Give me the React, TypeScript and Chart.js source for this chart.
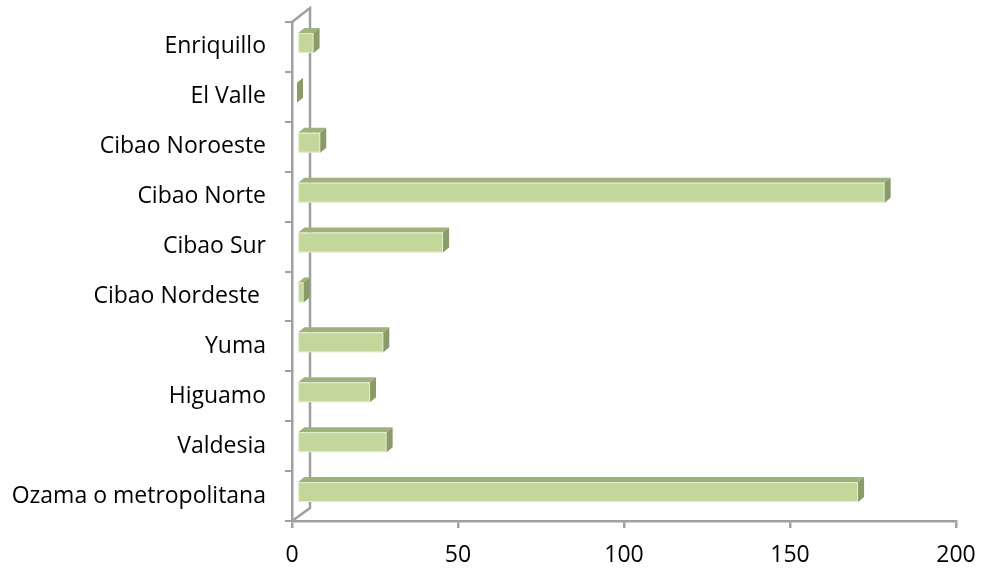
import React, { useEffect, useRef } from "react";
import { Chart, registerables } from "chart.js";

Chart.register(...registerables);

const categories: string[] = [
  "Enriquillo",
  "El Valle",
  "Cibao Noroeste",
  "Cibao Norte",
  "Cibao Sur",
  "Cibao Nordeste ",
  "Yuma",
  "Higuamo",
  "Valdesia",
  "Ozama o metropolitana",
];
const values: number[] = [5, 0, 7, 177, 44, 2, 26, 22, 27, 169];
const xTicks: number[] = [0, 50, 100, 150, 200];

const FRONT = "#C4D79B";
const TOP = "#A0B27C";
const SIDE = "#8A9B69";
const AXIS = "#A0A0A0";
const FONT = "'Open Sans'";

const bar3d = {
  id: "bar3d",
  beforeDatasetsDraw(chart: any) {
    const { ctx, chartArea } = chart;
    const { left, top, bottom } = chartArea;
    ctx.save();
    ctx.strokeStyle = AXIS;
    ctx.lineWidth = 2.5;
    ctx.beginPath();
    ctx.moveTo(left, top);
    ctx.lineTo(left + 18, top - 14);
    ctx.lineTo(left + 18, bottom - 13);
    ctx.lineTo(left, bottom);
    ctx.stroke();
    ctx.restore();
  },
  afterDatasetsDraw(chart: any) {
    const { ctx } = chart;
    const meta = chart.getDatasetMeta(0);
    ctx.save();
    meta.data.forEach((el: any) => {
      const p = el.getProps(["x", "y", "base", "height"], true);
      const dx = 5, dy = -4, ddx = 6, ddy = -5;
      const x0 = p.base + dx;
      const x1 = p.x + dx;
      const y0 = p.y - p.height / 2 + dy;
      const y1 = p.y + p.height / 2 + dy;
      if (x1 - x0 > 0.5) {
        ctx.fillStyle = TOP;
        ctx.beginPath();
        ctx.moveTo(x0, y0);
        ctx.lineTo(x1, y0);
        ctx.lineTo(x1 + ddx, y0 + ddy);
        ctx.lineTo(x0 + ddx, y0 + ddy);
        ctx.closePath();
        ctx.fill();
        ctx.fillStyle = FRONT;
        ctx.fillRect(x0, y0, x1 - x0, y1 - y0);
        ctx.strokeStyle = "rgba(255,255,255,0.55)";
        ctx.lineWidth = 1;
        ctx.strokeRect(x0 + 0.5, y0 + 0.5, x1 - x0 - 1, y1 - y0 - 1);
      }
      ctx.fillStyle = SIDE;
      ctx.beginPath();
      ctx.moveTo(x1, y0);
      ctx.lineTo(x1 + ddx, y0 + ddy);
      ctx.lineTo(x1 + ddx, y1 + ddy);
      ctx.lineTo(x1, y1);
      ctx.closePath();
      ctx.fill();
    });
    ctx.restore();
  },
};

export default function App() {
  const ref = useRef<HTMLCanvasElement | null>(null);
  useEffect(() => {
    if (!ref.current) return;
    const chart = new Chart(ref.current, {
      type: "bar",
      data: {
        labels: categories,
        datasets: [
          {
            data: values,
            backgroundColor: "rgba(0,0,0,0)",
            borderWidth: 0,
            categoryPercentage: 1,
            barPercentage: 0.4,
          },
        ],
      },
      options: {
        indexAxis: "y",
        animation: false,
        responsive: false,
        maintainAspectRatio: false,
        layout: { padding: { top: 22, right: 28, left: 0, bottom: 0 } },
        plugins: { legend: { display: false }, tooltip: { enabled: false } },
        scales: {
          x: {
            type: "linear",
            min: 0,
            max: 200,
            afterBuildTicks: (s: any) => {
              s.ticks = xTicks.map((v) => ({ value: v }));
            },
            afterFit: (s: any) => {
              s.height = 50;
              s.paddingLeft = 0;
              s.paddingRight = 0;
            },
            grid: {
              drawOnChartArea: false,
              drawTicks: true,
              tickLength: 7,
              color: AXIS,
              lineWidth: 2.5,
            },
            border: { color: AXIS, width: 2.5 },
            ticks: {
              color: "#000",
              padding: 14,
              font: { family: FONT, size: 23 },
              maxRotation: 0,
            },
          },
          y: {
            type: "category",
            afterFit: (s: any) => {
              s.width = 292;
              s.paddingTop = 0;
              s.paddingBottom = 0;
            },
            grid: {
              drawOnChartArea: false,
              drawTicks: true,
              tickLength: 7,
              offset: true,
              color: AXIS,
              lineWidth: 2,
            },
            border: { color: AXIS, width: 2.5 },
            ticks: {
              color: "#000",
              padding: 19,
              font: { family: FONT, size: 23 },
            },
          },
        },
      },
      plugins: [bar3d],
    });
    return () => chart.destroy();
  }, []);
  return (
    <div style={{ position: "fixed", left: 0, top: 0, width: 984, height: 571, background: "#fff" }}>
      <canvas ref={ref} width={984} height={571} style={{ width: 984, height: 571 }} />
    </div>
  );
}
